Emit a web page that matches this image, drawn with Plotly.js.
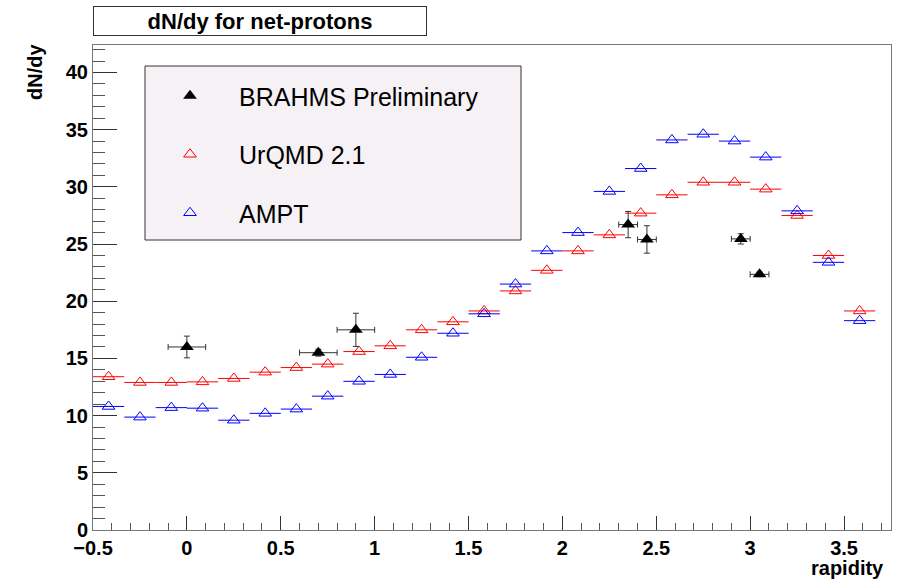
<!DOCTYPE html>
<html>
<head>
<meta charset="utf-8">
<script src="https://cdn.plot.ly/plotly-3.0.1.min.js"></script>
<style>html,body{margin:0;padding:0;background:#fff;}</style>
</head>
<body>
<div id="chart" style="width:904px;height:580px;"></div>
<script>
// ---- data ----
const binCenters = [-0.417, -0.25, -0.083, 0.083, 0.25, 0.417, 0.583, 0.75, 0.917, 1.083, 1.25, 1.417, 1.583, 1.75, 1.917, 2.083, 2.25, 2.417, 2.583, 2.75, 2.917, 3.083, 3.25, 3.417, 3.583];
const binHalfWidth = 0.0833;
const urqmdValues = [13.4, 12.9, 12.9, 12.95, 13.25, 13.8, 14.2, 14.5, 15.6, 16.1, 17.5, 18.2, 19.15, 20.9, 22.7, 24.4, 25.8, 27.7, 29.3, 30.4, 30.4, 29.8, 27.5, 24.0, 19.15];
const amptValues = [10.8, 9.87, 10.7, 10.65, 9.6, 10.2, 10.57, 11.7, 13.0, 13.6, 15.1, 17.2, 18.9, 21.5, 24.4, 26.0, 29.6, 31.6, 34.1, 34.6, 34.0, 32.6, 27.9, 23.4, 18.3];
const brahmsX = [0, 0.7, 0.9, 2.35, 2.45, 2.95, 3.05];
const brahmsY = [16.0, 15.5, 17.5, 26.7, 25.4, 25.45, 22.35];
const brahmsErrX = [0.1, 0.1, 0.1, 0.05, 0.05, 0.05, 0.05];
const brahmsErrY = [0.95, 0.3, 1.45, 1.15, 1.2, 0.45, 0.2];
const seriesNames = ["BRAHMS Preliminary", "UrQMD 2.1", "AMPT"];
const titleText = "dN/dy for net-protons";
const xTitle = "rapidity";
const yTitle = "dN/dy";

const FONT = "Liberation Sans, Arial, Helvetica, sans-serif";

function modelTrace(vals, name, color, rank) {
  return {
    type: "scatter", mode: "markers", name: name,
    x: binCenters, y: vals,
    legendgroup: name, legendrank: rank,
    marker: {symbol: "triangle-up-open", size: 11, color: color, line: {width: 1, color: color}},
    error_x: {type: "constant", value: binHalfWidth, width: 0, thickness: 1, color: color},
    hoverinfo: "x+y"
  };
}

const traces = [
  modelTrace(urqmdValues, seriesNames[1], "#ff0000", 2),
  modelTrace(amptValues, seriesNames[2], "#0000ff", 3),
  {
    type: "scatter", mode: "markers", name: seriesNames[0],
    x: brahmsX, y: brahmsY,
    legendgroup: seriesNames[0], legendrank: 1,
    marker: {symbol: "triangle-up", size: 12, color: "#000000"},
    error_x: {type: "data", array: brahmsErrX, width: 3, thickness: 1, color: "#333333"},
    error_y: {type: "data", array: brahmsErrY, width: 3, thickness: 1, color: "#333333"}
  }
];

const W = 904, H = 580;
const L = 93, R = 13, T = 45, B = 50;
const pw = W - L - R, ph = H - T - B;
const px = v => (v - L) / pw;
const py = v => 1 - (v - T) / ph;

const layout = {
  width: W, height: H,
  margin: {l: L, r: R, t: T, b: B, pad: 0},
  paper_bgcolor: "#ffffff", plot_bgcolor: "#ffffff",
  showlegend: true,
  font: {family: FONT, color: "#000"},
  xaxis: {
    range: [-0.5, 3.75], tickmode: "linear", tick0: -0.5, dtick: 0.5,
    ticks: "inside", ticklen: 14, tickwidth: 1, tickcolor: "#333",
    minor: {dtick: 0.1, ticks: "inside", ticklen: 7, tickcolor: "#555", showgrid: false},
    showgrid: false, zeroline: false,
    showline: true, linecolor: "#777", linewidth: 1, mirror: true,
    tickfont: {family: FONT, size: 20, color: "#000", weight: "bold"},
    ticklabelstandoff: 0
  },
  yaxis: {
    range: [0, 42.4], tickmode: "linear", tick0: 0, dtick: 5,
    ticks: "inside", ticklen: 24, tickwidth: 1, tickcolor: "#333",
    minor: {dtick: 1, ticks: "inside", ticklen: 12, tickcolor: "#555", showgrid: false},
    showgrid: false, zeroline: false,
    showline: true, linecolor: "#777", linewidth: 1, mirror: true,
    tickfont: {family: FONT, size: 20, color: "#000", weight: "bold"}
  },
  legend: {
    x: px(141), y: py(73), xanchor: "left", yanchor: "top",
    bgcolor: "rgba(0,0,0,0)", borderwidth: 0,
    font: {family: FONT, size: 25, color: "#000"},
    traceorder: "grouped", tracegroupgap: 23, itemwidth: 88
  },
  shapes: [
    {type: "rect", xref: "paper", yref: "paper", layer: "below",
     x0: px(145), x1: px(521), y0: py(240), y1: py(66),
     fillcolor: "#f5f1f4", line: {color: "#333", width: 1}}
  ],
  annotations: [
    {text: "<b>" + titleText + "</b>", xref: "paper", yref: "paper", x: 0, y: 1,
     xanchor: "left", yanchor: "bottom", yshift: 9, showarrow: false,
     width: 332, height: 28, borderwidth: 1, bordercolor: "#333", bgcolor: "#fff", borderpad: 0,
     font: {family: FONT, size: 22, color: "#000"}},
    {text: "<b>" + yTitle + "</b>", xref: "paper", yref: "paper", x: 0, y: 1,
     xanchor: "center", yanchor: "top", xshift: -58, yshift: 3, textangle: -90, showarrow: false,
     font: {family: FONT, size: 20, color: "#000"}},
    {text: "<b>" + xTitle + "</b>", xref: "paper", yref: "paper", x: 1, y: 0,
     xanchor: "right", yanchor: "top", xshift: -5, yshift: -25, showarrow: false,
     font: {family: FONT, size: 20, color: "#000"}}
  ]
};

Plotly.newPlot("chart", traces, layout, {displayModeBar: false, staticPlot: true});
</script>
</body>
</html>
